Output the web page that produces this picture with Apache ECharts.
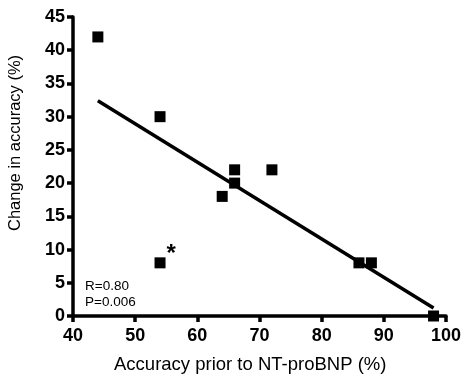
<!DOCTYPE html>
<html>
<head>
<meta charset="utf-8">
<script src="https://cdn.jsdelivr.net/npm/echarts@6/dist/echarts.min.js"></script>
<style>html,body{margin:0;padding:0;background:#fff;}#c{width:464px;height:376px;}</style>
</head>
<body>
<div id="c"></div>
<script>
var accuracyPrior = [44, 54, 54, 64, 66, 66, 72, 86, 88, 98];
var changeInAccuracy = [42, 30, 8, 18, 22, 20, 22, 8, 8, 0];
var flaggedIndex = 2;
var fitX = [44, 98];
var fitY = [32.4, 1.2];
var xTicks = [40, 50, 60, 70, 80, 90, 100];
var yTicks = [0, 5, 10, 15, 20, 25, 30, 35, 40, 45];
var statsText = ['R=0.80', 'P=0.006'];
var xTitle = 'Accuracy prior to NT-proBNP (%)';
var yTitle = 'Change in accuracy (%)';

var pts = accuracyPrior.map(function (x, i) {
  var d = { value: [x, changeInAccuracy[i]] };
  if (i === flaggedIndex) {
    d.label = { show: true, formatter: '*', position: 'right', offset: [-4, -8],
      fontSize: 24, fontWeight: 'bold', fontFamily: 'Liberation Sans, Arial', color: '#000' };
  }
  return d;
});
var fitData = fitX.map(function (x, i) { return [x, fitY[i]]; });

var font = 'Liberation Sans, Arial, sans-serif';
var chart = echarts.init(document.getElementById('c'));
chart.setOption({
  animation: false,
  grid: { left: 73, right: 14, top: 17, bottom: 60 },
  xAxis: {
    type: 'value', min: xTicks[0], max: xTicks[xTicks.length - 1], interval: 10,
    axisLine: { show: true, lineStyle: { color: '#000', width: 3.5 } },
    axisTick: { show: true, inside: false, length: 6, lineStyle: { color: '#000', width: 3.5 } },
    axisLabel: { color: '#000', fontSize: 18, fontWeight: 'bold', fontFamily: font, margin: 11 },
    splitLine: { show: false }
  },
  yAxis: {
    type: 'value', min: yTicks[0], max: yTicks[yTicks.length - 1], interval: 5,
    axisLine: { show: true, lineStyle: { color: '#000', width: 3.5 } },
    axisTick: { show: true, inside: false, length: 6, lineStyle: { color: '#000', width: 3.5 } },
    axisLabel: { color: '#000', fontSize: 18, fontWeight: 'bold', fontFamily: font, margin: 8 },
    splitLine: { show: false }
  },
  graphic: [
    { type: 'text', left: 114, top: 355, style: { text: xTitle, fontSize: 18.5, fontFamily: font, fill: '#000' } },
    { type: 'text', x: 7, y: 231, rotation: Math.PI / 2, style: { text: yTitle, fontSize: 16.5, fontFamily: font, fill: '#000' } },
    { type: 'text', left: 85, top: 279, style: { text: statsText[0], fontSize: 13.5, fontFamily: font, fill: '#000' } },
    { type: 'text', left: 85, top: 295, style: { text: statsText[1], fontSize: 13.5, fontFamily: font, fill: '#000' } }
  ],
  series: [
    {
      type: 'line', data: fitData, symbol: 'none', silent: true,
      lineStyle: { color: '#000', width: 3.5 }, z: 2
    },
    {
      type: 'scatter', data: pts, symbol: 'rect', symbolSize: 11,
      itemStyle: { color: '#000', opacity: 1 }, z: 3
    }
  ]
});
</script>
</body>
</html>
